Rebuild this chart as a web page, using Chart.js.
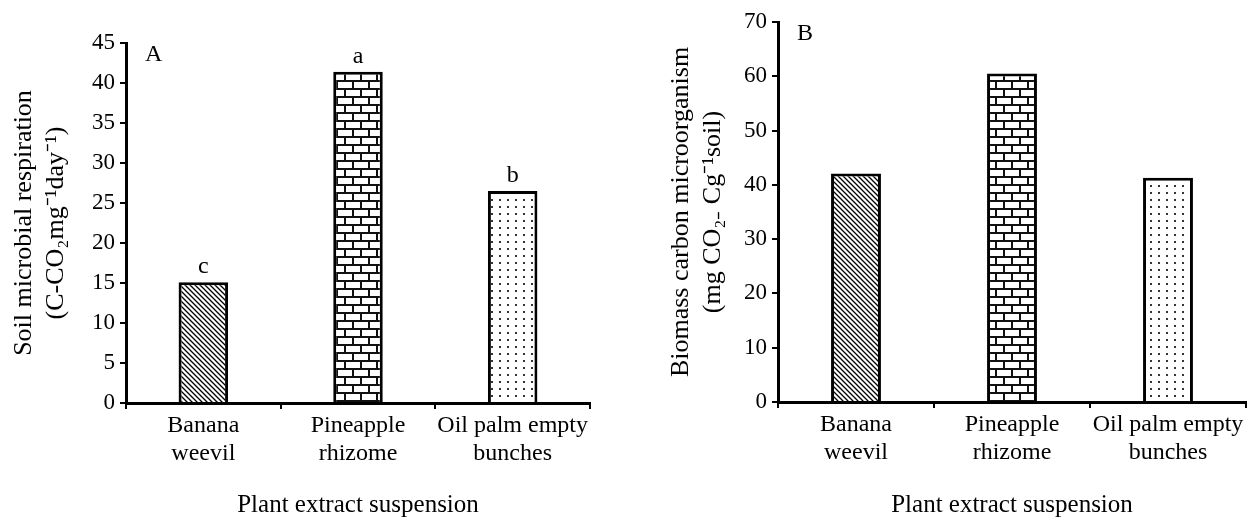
<!DOCTYPE html>
<html>
<head>
<meta charset="utf-8">
<title>Plant extract suspension</title>
<script src="https://cdn.jsdelivr.net/npm/chart.js@4.4.1/dist/chart.umd.min.js"></script>
<style>
  html, body { margin: 0; padding: 0; background: #fff; }
  .wrap { display: flex; width: 1254px; height: 525px; }
  .panel { position: relative; width: 627px; height: 525px; }
</style>
</head>
<body>
<div class="wrap">
  <div class="panel"><canvas id="chartA"></canvas></div>
  <div class="panel"><canvas id="chartB"></canvas></div>
</div>
<script>
// data
const categories = [['Banana', 'weevil'], ['Pineapple', 'rhizome'], ['Oil palm empty', 'bunches']];
const respirationValues = [15.1, 41.4, 26.5];
const respirationLetters = ['c', 'a', 'b'];
const respirationTicks = [0, 5, 10, 15, 20, 25, 30, 35, 40, 45];
const biomassValues = [42.1, 60.5, 41.3];
const biomassTicks = [0, 10, 20, 30, 40, 50, 60, 70];

const SERIF = '"Liberation Serif", "Times New Roman", serif';
Chart.defaults.color = '#000';
Chart.defaults.font.family = SERIF;

// fill patterns for the three bars
function makePattern(kind) {
    const c = document.createElement('canvas');
    const g = c.getContext('2d');
    if (kind === 'hatch') {
        c.width = 5; c.height = 5;
        g.fillStyle = '#fff'; g.fillRect(0, 0, 5, 5);
        g.strokeStyle = '#000'; g.lineWidth = 1.3;
        g.beginPath();
        g.moveTo(-1, -1); g.lineTo(6, 6);
        g.moveTo(-1, 4); g.lineTo(1, 6);
        g.moveTo(4, -1); g.lineTo(6, 1);
        g.stroke();
    } else if (kind === 'brick') {
        c.width = 16; c.height = 16;
        g.fillStyle = '#fff'; g.fillRect(0, 0, 16, 16);
        g.fillStyle = '#111';
        g.fillRect(0, 0, 16, 2);
        g.fillRect(0, 8, 16, 2);
        g.fillRect(0, 0, 2, 8);
        g.fillRect(8, 8, 2, 8);
    } else {
        c.width = 8; c.height = 7;
        g.fillStyle = '#fff'; g.fillRect(0, 0, 8, 7);
        g.fillStyle = '#333';
        g.fillRect(3, 3, 2, 2);
    }
    return g.createPattern(c, 'repeat');
}

// panel letter + significance letters above bars
const annotate = {
    id: 'annotate',
    afterDatasetsDraw(chart, args, opts) {
        const ctx = chart.ctx;
        const area = chart.chartArea;
        ctx.save();
        ctx.fillStyle = '#000';
        ctx.font = '24px ' + SERIF;
        ctx.textAlign = 'left';
        ctx.textBaseline = 'middle';
        ctx.fillText(opts.panel, area.left + 19, area.top + 12);
        ctx.textAlign = 'center';
        ctx.textBaseline = 'alphabetic';
        const meta = chart.getDatasetMeta(0);
        (opts.letters || []).forEach((t, i) => {
            const bar = meta.data[i];
            ctx.fillText(t, bar.x, bar.y - 9);
        });
        ctx.restore();
    }
};

function buildChart(id, values, ticksList, yTitle, panel, letters, box) {
    const ctx = document.getElementById(id).getContext('2d');
    return new Chart(ctx, {
        type: 'bar',
        data: {
            labels: categories,
            datasets: [{
                data: values,
                backgroundColor: [makePattern('hatch'), makePattern('brick'), makePattern('dots')],
                borderColor: '#000',
                borderWidth: 3,
                barPercentage: 0.32,
                categoryPercentage: 1
            }]
        },
        options: {
            responsive: true,
            maintainAspectRatio: false,
            animation: false,
            layout: { padding: { top: box.top, right: box.right, bottom: 0, left: 0 } },
            plugins: {
                legend: { display: false },
                tooltip: { enabled: false },
                annotate: { panel: panel, letters: letters }
            },
            scales: {
                x: {
                    grid: { display: true, drawOnChartArea: false, color: '#000', lineWidth: 2, tickLength: 6 },
                    border: { display: true, color: '#000', width: 3 },
                    ticks: { font: { size: 24, lineHeight: 1.17 }, padding: 3, autoSkip: false, maxRotation: 0 },
                    title: {
                        display: true,
                        text: 'Plant extract suspension',
                        font: { size: 25, lineHeight: 1.2 },
                        padding: { top: 0, bottom: 5 }
                    },
                    afterFit: scale => { scale.height = box.xHeight; }
                },
                y: {
                    min: ticksList[0],
                    max: ticksList[ticksList.length - 1],
                    afterBuildTicks: scale => { scale.ticks = ticksList.map(v => ({ value: v })); },
                    grid: { display: true, drawOnChartArea: false, color: '#000', lineWidth: 2, tickLength: 6 },
                    border: { display: true, color: '#000', width: 3 },
                    ticks: { font: { size: 23 }, padding: 5 },
                    title: {
                        display: true,
                        text: yTitle,
                        font: { size: 26, lineHeight: 1.23 },
                        padding: { top: box.titlePad, bottom: 0 }
                    },
                    afterFit: scale => { scale.width = box.yWidth; }
                }
            }
        },
        plugins: [annotate]
    });
}

buildChart('chartA', respirationValues, respirationTicks,
    ['Soil microbial respiration', '(C-CO\u2082mg\u207B\u00B9day\u207B\u00B9)'],
    'A', respirationLetters,
    { top: 43, right: 37, xHeight: 122, yWidth: 126, titlePad: 8 });

buildChart('chartB', biomassValues, biomassTicks,
    ['Biomass carbon microorganism', '(mg CO\u2082\u208B Cg\u207B\u00B9soil)'],
    'B', [],
    { top: 22, right: 8, xHeight: 123, yWidth: 151, titlePad: 38 });
</script>
</body>
</html>
